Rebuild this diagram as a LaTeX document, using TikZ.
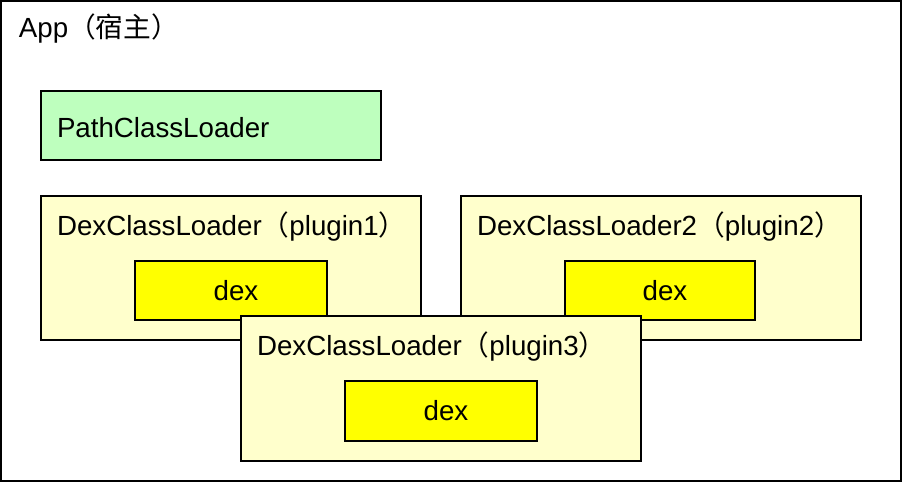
\documentclass[tikz,border=0pt]{standalone}
\usepackage{fontspec}
\setmainfont{Liberation Sans}
\newfontfamily\cjkfont{Noto Sans CJK SC}
\definecolor{ltgreen}{RGB}{190,255,190}
\definecolor{ltyellow}{RGB}{255,255,204}
\definecolor{dexyellow}{RGB}{255,255,0}
\begin{document}
\begin{tikzpicture}[x=1pt,y=-1pt,
  box/.style={draw=black, line width=2pt, rectangle, inner sep=0pt, outer sep=0pt, anchor=north west, font=\fontsize{27.7}{32}\selectfont},
  pathbox/.style={box, fill=ltgreen},
  loader/.style={box, fill=ltyellow},
  dexbox/.style={box, fill=dexyellow},
  lbl/.style={anchor=base west, inner sep=0pt, outer sep=0pt, font=\fontsize{27.7}{32}\selectfont}]
\useasboundingbox (0,0) rectangle (902,482);
\node[box, fill=white, minimum width=900pt, minimum height=480pt] (app) at (1,1) {};
\node[lbl] (apptitle) at (19,37.7) {App{\cjkfont （宿主）}};
\node[pathbox, minimum width=340pt, minimum height=69pt] (path) at (41,91) {};
\node[lbl] (pathtitle) at (57,137.7) {PathClassLoader};
\node[loader, minimum width=380pt, minimum height=144pt] (p1) at (41,196) {};
\node[lbl] (p1title) at (57,235) {DexClassLoader{\cjkfont （}plugin1{\cjkfont ）}};
\node[dexbox, minimum width=192pt, minimum height=59pt] (d1) at (135,261) {\hspace{10pt}dex};
\node[loader, minimum width=400pt, minimum height=144pt] (p2) at (461,196) {};
\node[lbl] (p2title) at (477,235) {DexClassLoader2{\cjkfont （}plugin2{\cjkfont ）}};
\node[dexbox, minimum width=190pt, minimum height=59pt] (d2) at (565,261) {\hspace{10pt}dex};
\node[loader, minimum width=400pt, minimum height=145pt] (p3) at (241,316) {};
\node[lbl] (p3title) at (257,355) {DexClassLoader{\cjkfont （}plugin3{\cjkfont ）}};
\node[dexbox, minimum width=192pt, minimum height=60pt] (d3) at (345,381) {\hspace{10pt}dex};
\end{tikzpicture}
\end{document}
